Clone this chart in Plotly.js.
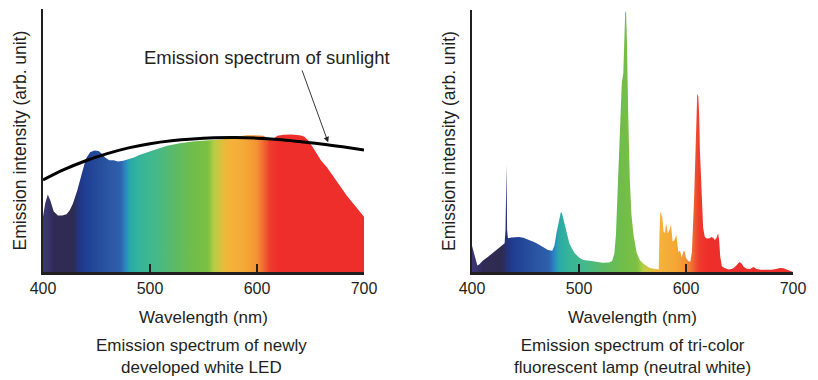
<!DOCTYPE html>
<html>
<head>
<meta charset="utf-8">
<script src="https://cdn.plot.ly/plotly-3.0.1.min.js"></script>
<style>
  html, body { margin: 0; padding: 0; background: #ffffff; }
  #chart { width: 818px; height: 380px; }
</style>
</head>
<body>
<div id="chart"></div>
<script>
// ---- Data (intensity in arbitrary units, 0-100) ----
// White LED emission spectrum
const ledWavelength = [400,402,404.5,407,410,414,418,422,425,428,432,436,440,444,448,452,455,458,462,466,470,475,480,485,490,500,508,516,528,540,547,556,566,576,584,590,598,606,611,615,619,625,632,640,644,648,652,656,660,665,670,675,680,684,688,693,697,700];
const ledIntensity  = [21,26,29.5,27,23,21.5,21.5,22,23.5,26,31,37.5,43,45.5,46.2,46,45,43.5,42.5,42.5,42,42.3,42.8,43.5,44.5,46,47,48,49,49.6,49.8,50.2,50.5,50.8,51.6,52,52,51.8,50.6,50.5,51.8,52.2,52.3,52,51.5,50,47.5,45,42.3,40,37,34,31.2,29,27,24.5,22.5,21];

// Sunlight emission spectrum (reference curve)
const sunWavelength = [400,420,440,460,480,500,520,540,560,580,600,620,640,660,680,700];
const sunIntensity  = [35.0,39.0,42.3,45.0,47.2,48.8,49.9,50.6,51.0,51.1,50.9,50.4,49.6,48.7,47.6,46.4];

// Tri-color fluorescent lamp (neutral white)
const flWavelength = [400,401,403,405,407,410,415,420,424,428,430.5,431.3,431.8,432.3,432.8,433.6,437,440,444,448,452,456,459,462,465,468,471,475,477,479,481,483,484,485.5,487,489,491,493,496,500,504,510,516,522,528,531,533,534.5,536,538,540,541.4,542.3,543.2,544,544.8,546,547.5,549,551,554,557,560,566,572,574.5,575.2,576,577,578,579,580,581.5,583,585,586,587.5,589,591,592.8,594.4,596,597.5,598.5,600,602,604,605.5,607.5,609.3,610.5,611.5,612.3,613,614.5,616,617.5,619.3,622,624,625.5,627,628.5,630,631,632,633.5,636,640,644,647,650,652,654,657,660,663,666,670,675,680,684,688,691,694,697,699,700];
const flIntensity  = [10,8.5,4.5,2.5,3,4.3,5.8,7.5,9,10.2,11,16,41,41,16,12.9,13.2,13.4,13.4,13.1,12.5,11.9,11.3,10.6,9.8,9,8.4,8.1,10,15,19.5,22.8,22.6,20,17.5,13.5,11,9.3,7.2,5.5,4.6,4.3,3.9,3.5,3.6,4.2,7,14,30,55,72,76,85,99.5,99,88,60,35,22,14,7.2,4.5,3.2,1.5,1.1,1.0,15,22.9,22.2,20.5,15.5,14.8,18.5,14.8,16.5,18.2,11.5,12,14.2,7.5,8.2,5.5,7.8,8.2,5.3,4.2,3.9,7.5,27.4,53,68,67,60,46.4,27.4,17,13.5,12.8,12.9,13.4,13,12.2,13,14.8,12,5.8,2.2,1.5,1.0,1.3,2.5,3.8,3.2,1.9,1.2,1.1,1.9,1.1,0.9,0.8,0.9,1.1,1.5,1.4,1.0,0.6,0.3,0];

// Axis ticks
const tickValues = [400, 500, 600, 700];
const tickLabels = ['400', '500', '600', '700'];

// ---- Styles ----
const spectrumStops = [400,404,410,428,433,438,460,472,477,481,490,506,522,540,554,560,566,572,590,600,606,612,620,700];
const spectrumColors = ['#3d3675','#3a3470','#2f2b55','#2e2b50','#24337c','#1f3d91','#2a55a2','#2e60ab','#2b86c4','#29a8a9','#35b59a','#45b98a','#5aba68','#70bd4a','#7cc043','#b5cf45','#d7c23f','#f2b63a','#f5a736','#f49234','#f06a33','#ee3c2c','#ee2e2a','#ee2e2a'];
const spectrumScale = spectrumStops.map((w, i) => [(w - 400) / 300, spectrumColors[i]]);

const ink = '#231f20';
const fontFam = 'Liberation Sans, Arial, Helvetica, sans-serif';

const spectrumTrace = (x, y, xa, ya) => ({
  x: x, y: y, xaxis: xa, yaxis: ya,
  type: 'scatter', mode: 'lines',
  line: { width: 0 },
  fill: 'tozeroy',
  fillgradient: { type: 'horizontal', start: 400, stop: 700, colorscale: spectrumScale },
  hoverinfo: 'skip', showlegend: false
});

const data = [
  spectrumTrace(ledWavelength, ledIntensity, 'x', 'y'),
  { x: sunWavelength, y: sunIntensity, xaxis: 'x', yaxis: 'y', type: 'scatter', mode: 'lines',
    line: { color: '#000000', width: 3, shape: 'spline', smoothing: 1 }, hoverinfo: 'skip', showlegend: false },
  spectrumTrace(flWavelength, flIntensity, 'x2', 'y2')
];

const xAxisBase = {
  range: [400, 700], tickvals: tickValues, ticktext: tickLabels,
  ticks: 'inside', ticklen: 8, tickwidth: 1.3, tickcolor: ink,
  showline: true, linewidth: 2.5, linecolor: ink,
  showgrid: false, zeroline: false,
  tickfont: { family: fontFam, size: 16, color: ink },
  title: { text: 'Wavelength (nm)', font: { family: fontFam, size: 17, color: ink }, standoff: 16 },
  automargin: false, fixedrange: true
};
const yAxisBase = {
  range: [0, 100], showline: true, linewidth: 2.5, linecolor: ink,
  showticklabels: false, ticks: '', showgrid: false, zeroline: false,
  title: { text: 'Emission intensity (arb. unit)', font: { family: fontFam, size: 17.5, color: ink }, standoff: 10 },
  automargin: false, fixedrange: true
};

const layout = {
  width: 818, height: 380,
  margin: { l: 0, r: 0, t: 0, b: 0 },
  paper_bgcolor: '#ffffff', plot_bgcolor: 'rgba(0,0,0,0)',
  font: { family: fontFam, color: ink },
  xaxis: Object.assign({}, xAxisBase, { domain: [43 / 818, 364 / 818], anchor: 'y' }),
  yaxis: Object.assign({}, yAxisBase, { domain: [1 - 272 / 380, 1 - 9 / 380], anchor: 'x' }),
  xaxis2: Object.assign({}, xAxisBase, { domain: [472 / 818, 793 / 818], anchor: 'y2' }),
  yaxis2: Object.assign({}, yAxisBase, { domain: [1 - 272 / 380, 1 - 10 / 380], anchor: 'x2' }),
  annotations: [
    { xref: 'paper', yref: 'paper', x: 266.5 / 818, y: 1 - 57 / 380, xanchor: 'center', yanchor: 'middle',
      text: 'Emission spectrum of sunlight', showarrow: false,
      font: { family: fontFam, size: 18.5, color: ink } },
    { xref: 'x', yref: 'y', x: 666.5, y: 49.3, ax: -26.6, ay: -73.4, text: '', showarrow: true,
      arrowhead: 2, arrowsize: 1.2, arrowwidth: 0.9, arrowcolor: ink, standoff: 0, startstandoff: 0 },
    { xref: 'paper', yref: 'paper', x: 201 / 818, y: 1 - 356 / 380, xanchor: 'center', yanchor: 'middle',
      text: 'Emission spectrum of newly<br>developed white LED', showarrow: false,
      font: { family: fontFam, size: 17, color: ink } },
    { xref: 'paper', yref: 'paper', x: 632.5 / 818, y: 1 - 356 / 380, xanchor: 'center', yanchor: 'middle',
      text: 'Emission spectrum of tri-color<br>fluorescent lamp (neutral white)', showarrow: false,
      font: { family: fontFam, size: 17, color: ink } }
  ]
};

Plotly.newPlot('chart', data, layout, { staticPlot: true, displayModeBar: false });
</script>
</body>
</html>
